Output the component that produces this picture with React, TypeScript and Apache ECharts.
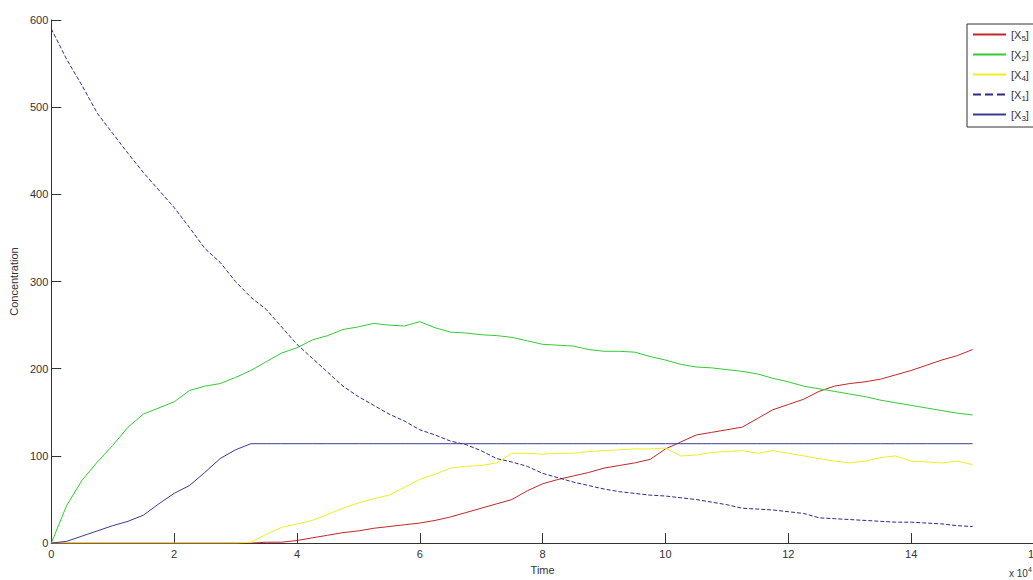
import React, { useEffect, useRef } from "react";
import * as echarts from "echarts";

const TIME = [
  0, 0.25, 0.5, 0.75, 1, 1.25, 1.5, 1.75, 2, 2.25, 2.5, 2.75, 3, 3.25, 3.5, 3.75,
  4, 4.25, 4.5, 4.75, 5, 5.25, 5.5, 5.75, 6, 6.25, 6.5, 6.75, 7, 7.25, 7.5, 7.75,
  8, 8.25, 8.5, 8.75, 9, 9.25, 9.5, 9.75, 10, 10.25, 10.5, 10.75, 11, 11.25, 11.5, 11.75,
  12, 12.25, 12.5, 12.75, 13, 13.25, 13.5, 13.75, 14, 14.25, 14.5, 14.75, 15,
];

const X1 = [
  590, 555, 525, 493, 470, 447, 425, 405, 385, 362, 338, 322, 300, 282, 268, 248,
  228, 212, 196, 180, 168, 158, 148, 140, 130, 124, 117, 113, 106, 97, 93, 88,
  80, 75, 70, 66, 62, 59, 57, 55, 54, 52, 50, 47, 44, 40, 39, 38,
  36, 34, 29, 28, 27, 26, 25, 24, 24, 23, 22, 20, 19,
];

const X2 = [
  0, 43, 72, 93, 112, 133, 148, 155, 162, 175, 180, 183, 190, 198, 208, 218,
  224, 233, 238, 245, 248, 252, 250, 249, 254, 247, 242, 241, 239, 238, 236, 232,
  228, 227, 226, 222, 220, 220, 219, 214, 210, 205, 202, 201, 199, 197, 194, 189,
  185, 180, 177, 174, 171, 168, 164, 161, 158, 155, 152, 149, 147,
];

const X3 = [
  0, 2, 8, 14, 20, 25, 32, 45, 57, 66, 81, 97, 107, 114, 114, 114,
  114, 114, 114, 114, 114, 114, 114, 114, 114, 114, 114, 114, 114, 114, 114, 114,
  114, 114, 114, 114, 114, 114, 114, 114, 114, 114, 114, 114, 114, 114, 114, 114,
  114, 114, 114, 114, 114, 114, 114, 114, 114, 114, 114, 114, 114,
];

const X4 = [
  0, 0, 0, 0, 0, 0, 0, 0, 0, 0, 0, 0, 0, 1, 10, 18,
  22, 26, 33, 40, 46, 51, 55, 64, 73, 79, 86, 88, 89, 92, 103, 103,
  102, 103, 103, 105, 106, 107, 108, 108, 109, 100, 101, 104, 105, 106, 103, 106,
  103, 100, 97, 94, 92, 94, 98, 100, 94, 93, 92, 94, 90,
];

const X5 = [
  0, 0, 0, 0, 0, 0, 0, 0, 0, 0, 0, 0, 0, 0, 1, 1,
  3, 6, 9, 12, 14, 17, 19, 21, 23, 26, 30, 35, 40, 45, 50, 60,
  68, 73, 77, 81, 86, 89, 92, 96, 108, 116, 124, 127, 130, 133, 143, 153,
  159, 165, 174, 180, 183, 185, 188, 193, 198, 204, 210, 215, 222,
];

const LEGEND_ORDER = ["X5", "X2", "X4", "X1", "X3"];
const FONT = "Liberation Sans";

export default function App() {
  const ref = useRef<HTMLDivElement>(null);
  useEffect(() => {
    const chart = echarts.init(ref.current!, null, { renderer: "svg" });
    const zip = (v: number[]) => TIME.map((t, i) => [t, v[i]]);
    const mk = (name: string, data: number[], color: string, type: string = "solid") => ({
      name,
      type: "line",
      data: zip(data),
      showSymbol: false,
      symbol: "none",
      lineStyle: { color, width: 1, type },
      itemStyle: { color },
      emphasis: { disabled: true },
    });
    chart.setOption({
      animation: false,
      backgroundColor: "#ffffff",
      textStyle: { fontFamily: FONT },
      grid: { left: 48, top: 20, width: 986, height: 526, containLabel: false },
      xAxis: {
        type: "value",
        min: 0,
        max: 16,
        interval: 2,
        name: "Time",
        nameLocation: "middle",
        nameGap: 18,
        nameTextStyle: { fontSize: 11, color: "#333", fontFamily: FONT },
        axisLine: { show: true, lineStyle: { color: "#333", width: 1 } },
        axisTick: { show: true, inside: true, length: 10, lineStyle: { color: "#333" } },
        axisLabel: { fontSize: 11, color: "#333", margin: 5, showMaxLabel: true, fontFamily: FONT },
        splitLine: { show: false },
      },
      yAxis: {
        type: "value",
        min: 0,
        max: 600,
        interval: 100,
        name: "Concentration",
        nameLocation: "middle",
        nameRotate: 90,
        nameGap: 25,
        nameTextStyle: { fontSize: 11, color: "#333", fontFamily: FONT },
        axisLine: { show: true, lineStyle: { color: "#333", width: 1 } },
        axisTick: { show: true, inside: true, length: 10, lineStyle: { color: "#333" } },
        axisLabel: { fontSize: 11, color: "#333", margin: 3, fontFamily: FONT },
        splitLine: { show: false },
      },
      legend: {
        data: LEGEND_ORDER,
        orient: "vertical",
        left: 967,
        top: 24,
        padding: [5, 6, 5, 5],
        itemGap: 7,
        itemWidth: 33,
        itemHeight: 12,
        backgroundColor: "#fff",
        borderColor: "#333",
        borderWidth: 1,
        borderRadius: 0,
        itemStyle: { opacity: 0 },
        formatter: (name: string) => `{a|[X}{s|${name.slice(1)}}{a|]}`,
        textStyle: {
          color: "#333",
          fontFamily: FONT,
          rich: {
            a: { fontSize: 11, fontFamily: FONT, color: "#333" },
            s: { fontSize: 8, fontFamily: FONT, color: "#333", padding: [7, 0, 0, 0] },
          },
        },
      },
      series: [
        mk("X5", X5, "#c42626"),
        mk("X2", X2, "#33cc33"),
        mk("X4", X4, "#eeee22"),
        mk("X1", X1, "#2b2b8c", "dashed"),
        mk("X3", X3, "#3a3a96"),
      ],
      graphic: [
        {
          type: "text",
          left: 1009,
          top: 566,
          style: {
            text: "{a|x 10}{b|4}",
            fill: "#333",
            rich: {
              a: { fontSize: 10, fontFamily: FONT, fill: "#333" },
              b: { fontSize: 7, fontFamily: FONT, fill: "#333", padding: [0, 0, 7, 0] },
            },
          },
        },
      ],
    });
    return () => chart.dispose();
  }, []);
  return (
    <div
      ref={ref}
      style={{ position: "fixed", left: 0, top: 0, width: 1050, height: 580, background: "#fff" }}
    />
  );
}
